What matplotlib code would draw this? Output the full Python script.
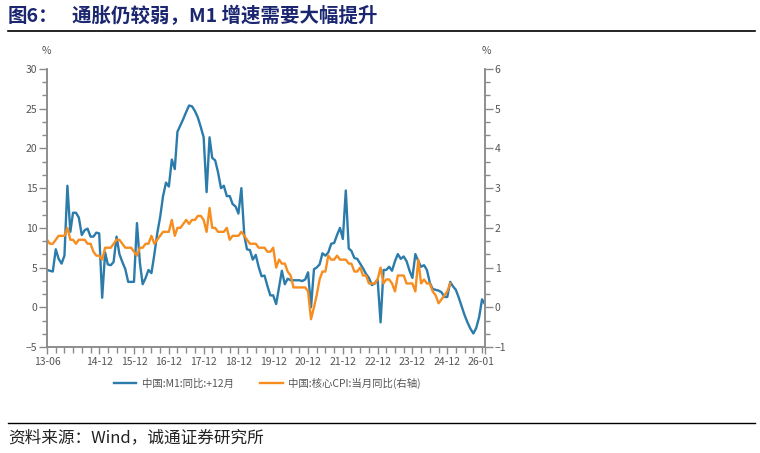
import numpy as np
import pandas as pd
import matplotlib
matplotlib.use('Agg')
import matplotlib.pyplot as plt
import matplotlib.transforms as mtransforms
from matplotlib.lines import Line2D

plt.rcParams['font.family'] = ['Noto Sans CJK SC', 'DejaVu Sans']

# M1 yoy, shifted +12 months, monthly from 2013-06 to 2026-01 (%)
m1 = [4.7, 4.6, 4.5, 7.3, 6.1, 5.5, 6.5,
      15.3, 9.5, 11.9, 11.9, 11.3, 9.1, 9.7, 9.9, 8.9, 8.9, 9.4, 9.3,
      1.2, 6.9, 5.4, 5.3, 5.7, 8.9, 6.7, 5.7, 4.8, 3.2, 3.2, 3.2,
      10.6, 5.6, 2.9, 3.7, 4.7, 4.3, 6.6, 9.3, 11.4, 14.0, 15.7, 15.2,
      18.6, 17.4, 22.1, 22.9, 23.7, 24.6, 25.4, 25.3, 24.7, 23.9, 22.7, 21.4,
      14.5, 21.4, 18.8, 18.5, 17.0, 15.0, 15.3, 14.0, 14.0, 13.0, 12.7, 11.8,
      15.0, 9.0, 7.3, 7.2, 6.0, 6.6, 5.1, 3.9, 4.0, 2.7, 1.5, 1.5,
      0.4, 2.6, 4.6, 2.9, 3.6, 3.4, 3.4, 3.4, 3.4, 3.3, 3.5, 4.4,
      0.0, 4.8, 5.0, 5.4, 6.8, 6.5, 6.9, 8.0, 8.1, 9.1, 10.0, 8.6,
      14.7, 7.4, 7.1, 6.2, 6.1, 5.5, 4.9, 4.2, 3.7, 2.8, 3.0, 3.5,
      -1.9, 4.7, 4.7, 5.1, 4.6, 5.8, 6.7, 6.1, 6.4, 5.8, 4.6, 3.7,
      6.7, 5.8, 5.1, 5.3, 4.7, 3.1, 2.3, 2.2, 2.1, 1.9, 1.3, 1.3,
      3.2, 2.6, 2.2, 1.2, 0.1, -1.0, -1.9, -2.7, -3.3, -2.6, -1.2, 1.0, 0.4]

# core CPI yoy, monthly from 2013-06 (%, right axis)
cpi = [1.7, 1.6, 1.6, 1.7, 1.8, 1.8, 1.8,
       2.0, 1.7, 1.7, 1.6, 1.7, 1.7, 1.7, 1.6, 1.6, 1.4, 1.3, 1.3,
       1.2, 1.5, 1.5, 1.5, 1.6, 1.7, 1.7, 1.6, 1.5, 1.5, 1.5, 1.4,
       1.3, 1.5, 1.5, 1.6, 1.6, 1.8, 1.6, 1.7, 1.8, 1.9, 1.9, 1.9,
       2.2, 1.8, 2.0, 2.0, 2.1, 2.2, 2.1, 2.2, 2.2, 2.3, 2.3, 2.2,
       1.9, 2.5, 2.0, 2.0, 1.9, 1.9, 1.9, 2.0, 1.7, 1.8, 1.8, 1.8,
       1.9, 1.8, 1.7, 1.6, 1.6, 1.6, 1.5, 1.5, 1.5, 1.4, 1.4, 1.5,
       1.0, 1.2, 1.1, 1.1, 0.9, 0.8, 0.5, 0.5, 0.5, 0.5, 0.5, 0.4,
       -0.3, 0.0, 0.3, 0.7, 0.9, 0.9, 1.3, 1.2, 1.2, 1.3, 1.2, 1.2,
       1.2, 1.1, 1.1, 0.9, 0.9, 1.0, 0.8, 0.8, 0.6, 0.6, 0.6, 0.7,
       1.0, 0.6, 0.7, 0.7, 0.6, 0.4, 0.8, 0.8, 0.8, 0.6, 0.6, 0.6,
       0.4, 1.2, 0.6, 0.7, 0.6, 0.6, 0.4, 0.3, 0.1, 0.2, 0.3, 0.4,
       0.6]

xlabels = ['13-06', '14-12', '15-12', '16-12', '17-12', '18-12', '19-12',
           '20-12', '21-12', '22-12', '23-12', '24-12', '26-01']

dates = pd.date_range('2013-06-01', periods=len(m1), freq='MS')
xticks = [pd.Timestamp('20' + s[:2] + '-' + s[3:] + '-01') for s in xlabels]

blue = '#2b7bab'
orange = '#f68d1e'
grey = '#8a8a8a'
tcol = '#555555'

fig = plt.figure(figsize=(7.6, 4.53), dpi=100)
ax = fig.add_axes([47 / 760, 1 - 347 / 453, 438 / 760, 278 / 453])
ax2 = ax.twinx()

l1, = ax.plot(dates, m1, color=blue, lw=1.7, solid_joinstyle='round')
l2, = ax2.plot(dates[:len(cpi)], cpi, color=orange, lw=1.7, solid_joinstyle='round')

ax.set_xlim(dates[0], dates[-1])
ax.set_ylim(-5, 30)
ax2.set_ylim(-1, 6)

ax.set_yticks(range(-5, 31, 5))
ax.set_yticks(np.linspace(-5, 30, 22), minor=True)
ax2.set_yticks(range(-1, 7))
ax2.set_yticks(np.linspace(-1, 6, 22), minor=True)
ax.set_xticks(xticks)
ax.set_xticklabels(xlabels)
ax.set_xticks(pd.date_range('2013-06-01', '2026-01-01', freq='3MS'), minor=True)

for a in (ax, ax2):
    a.spines['top'].set_visible(False)
    for side in ['left', 'right', 'bottom']:
        a.spines[side].set_color(grey)
        a.spines[side].set_linewidth(1.1)
    a.tick_params(which='major', length=6, width=1, color=grey,
                  labelsize=7.5, labelcolor=tcol, pad=1)
    a.tick_params(which='minor', length=3.5, width=1, color=grey)
ax.tick_params(axis='x', which='major', length=5, pad=2)
ax.tick_params(axis='x', which='minor', length=4)

# nudge the last date label a few pixels left, as in the source chart
last = ax.get_xticklabels()[-1]
last.set_transform(last.get_transform() +
                   mtransforms.ScaledTranslation(-4 / 100, 0, fig.dpi_scale_trans))

fig.text(46 / 760, 1 - 51 / 453, '%', ha='center', va='center', fontsize=7.5, color=tcol)
fig.text(486 / 760, 1 - 51 / 453, '%', ha='center', va='center', fontsize=7.5, color=tcol)

ax.legend([l1, l2], ['中国:M1:同比:+12月', '中国:核心CPI:当月同比(右轴)'],
          loc='center', bbox_to_anchor=(267 / 760, 1 - 383 / 453),
          bbox_transform=fig.transFigure, ncol=2, frameon=False,
          fontsize=7.5, labelcolor=tcol, handlelength=2.2, handletextpad=0.5,
          columnspacing=2.5)

# title and frame lines
title_col = '#1b2670'
fig.text(8 / 760, 1 - 16 / 453, '图6：', fontsize=14, fontweight='bold',
         color=title_col, va='center')
fig.text(72 / 760, 1 - 16 / 453, '通胀仍较弱，M1 增速需要大幅提升', fontsize=14,
         fontweight='bold', color=title_col, va='center')
fig.add_artist(Line2D([8 / 760, 755 / 760], [1 - 31 / 453] * 2, color='black', lw=1.2))
fig.add_artist(Line2D([8 / 760, 755 / 760], [1 - 423 / 453] * 2, color='black', lw=1.0))
fig.text(8 / 760, 1 - 438 / 453, '资料来源：Wind，诚通证券研究所', fontsize=12,
         color='#222222', va='center')

fig.savefig('out.png', dpi=100)
